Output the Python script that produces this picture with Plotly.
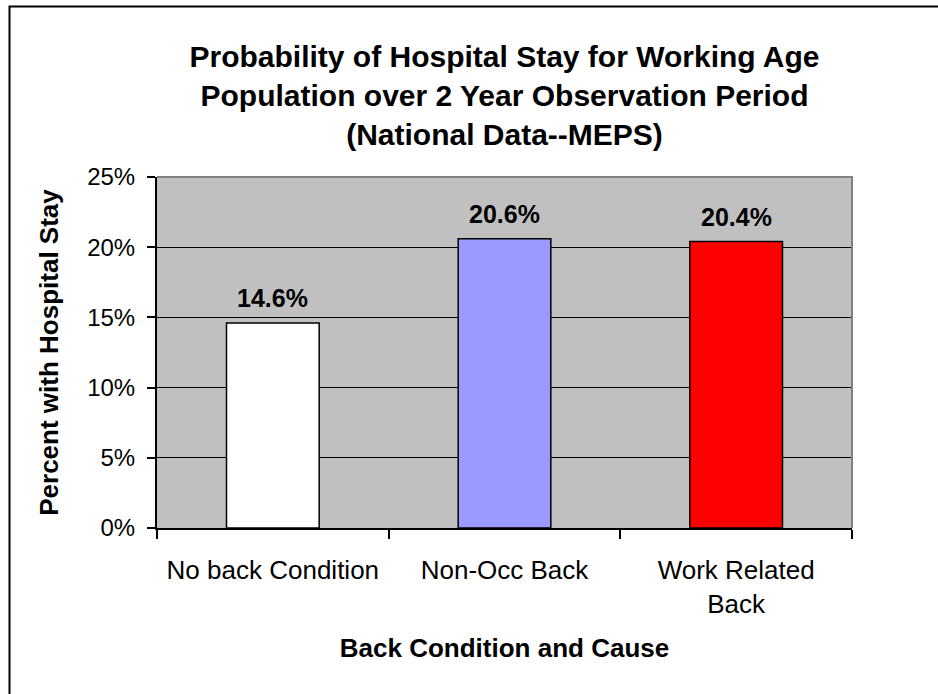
import plotly.graph_objects as go

categories = ["No back Condition", "Non-Occ Back", "Work Related<br>Back"]
values = [14.6, 20.6, 20.4]
labels = ["14.6%", "20.6%", "20.4%"]
colors = ["#FFFFFF", "#9999FF", "#FF0000"]

FONT = "Arial, 'Liberation Sans', sans-serif"

fig = go.Figure()
fig.add_trace(go.Bar(
    x=categories, y=values,
    marker=dict(color=colors, line=dict(color="black", width=1.5)),
    hoverinfo="skip",
))

for c, v, t in zip(categories, values, labels):
    fig.add_annotation(x=c, y=v, text="<b>%s</b>" % t, showarrow=False,
                       yanchor="middle", yshift=25,
                       font=dict(family=FONT, size=25, color="black"))

W, H = 938, 694
L, R, T, B = 157, 86, 177, 166

fig.update_layout(
    width=W, height=H,
    margin=dict(l=L, r=R, t=T, b=B, autoexpand=False),
    paper_bgcolor="white",
    plot_bgcolor="#C0C0C0",
    showlegend=False,
    bargap=0.6,
    font=dict(family=FONT, color="black"),
    title=dict(
        text="<b>Probability of Hospital Stay for Working Age<br>Population over 2 Year Observation Period<br>(National Data--MEPS)</b>",
        x=0.5, xref="paper", xanchor="center",
        y=1 - 67 / H, yref="container", yanchor="top",
        font=dict(family=FONT, size=30, color="black"),
    ),
    xaxis=dict(
        type="category",
        tickson="boundaries",
        ticks="outside", ticklen=9, tickwidth=2, tickcolor="black",
        ticklabelstandoff=18,
        showline=True, linecolor="black", linewidth=2,
        showgrid=False,
        tickfont=dict(family=FONT, size=26, color="black"),
        title=dict(text="<b>Back Condition and Cause</b>", standoff=21,
                   font=dict(family=FONT, size=26, color="black")),
        fixedrange=True,
    ),
    yaxis=dict(
        range=[0, 25], dtick=5, ticksuffix="%",
        ticks="outside", ticklen=8, tickwidth=2, tickcolor="black",
        ticklabelstandoff=7,
        showline=True, linecolor="black", linewidth=2,
        showgrid=True, gridcolor="black", gridwidth=1,
        zeroline=False,
        tickfont=dict(family=FONT, size=24, color="black"),
        title=dict(text="<b>Percent with Hospital Stay</b>", standoff=21,
                   font=dict(family=FONT, size=26, color="black")),
        fixedrange=True,
    ),
)

pw = W - L - R
ph = H - T - B
# gray top and right border of plot area
fig.add_shape(type="path", xref="paper", yref="paper",
              path="M 0,1 L 1,1 L 1,0",
              line=dict(color="#808080", width=2), layer="above")
# outer chart frame: left edge and top edge only (open path)
fx = (9.5 - L) / pw
fy = (H - B - 6.5) / ph
fyb = (H - B - H) / ph
fxr = (W - L) / pw
fig.add_shape(type="path", xref="paper", yref="paper",
              path="M %.5f,%.5f L %.5f,%.5f L %.5f,%.5f" % (fx, fyb, fx, fy, fxr, fy),
              line=dict(color="black", width=2), layer="above")

fig.write_html("out.html", config={"displayModeBar": False},
               post_script="document.body.style.margin='0';")
